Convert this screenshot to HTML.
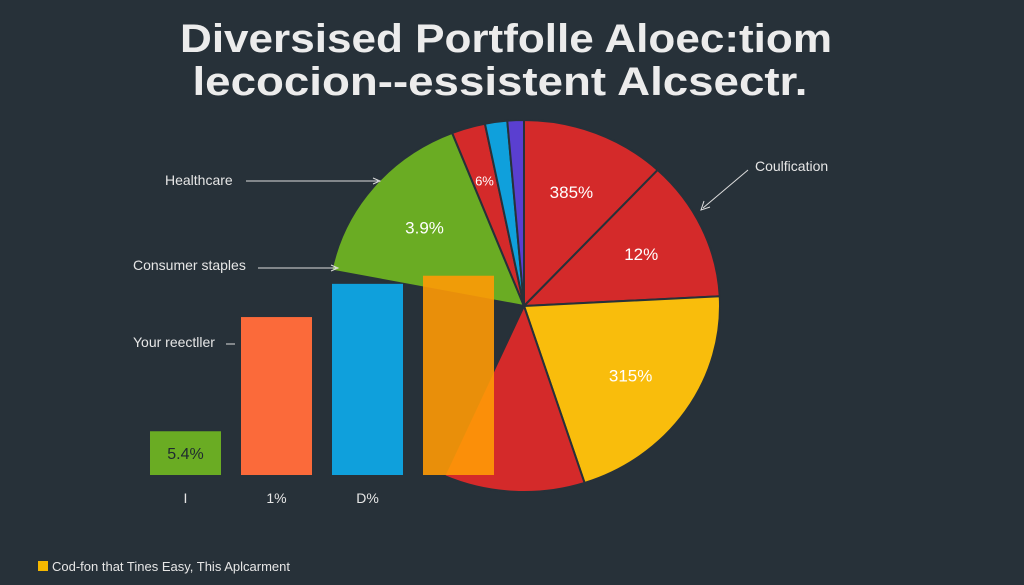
<!DOCTYPE html>
<html><head><meta charset="utf-8"><style>
html,body{margin:0;padding:0;background:#273139;}
svg{display:block;font-family:"Liberation Sans",sans-serif;}
</style></head><body>
<svg id="chart" width="1024" height="585" viewBox="0 0 1024 585">
<rect width="1024" height="585" fill="#273139"/>
<text x="506" y="52" text-anchor="middle" font-size="40" font-weight="bold" fill="#ececec" textLength="652" lengthAdjust="spacingAndGlyphs">Diversised Portfolle Aloec:tiom</text>
<text x="500" y="95" text-anchor="middle" font-size="40" font-weight="bold" fill="#ececec" textLength="615" lengthAdjust="spacingAndGlyphs">lecocion--essistent Alcsectr.</text>
<g id="pie"></g>
<g id="bars"></g>
<g fill="#e6e6e6" font-size="14" stroke-width="1">
<text x="165" y="185">Healthcare</text>
<line x1="246" y1="181" x2="378" y2="181" stroke="#ddd"/>
<path d="M373 178 L380 181 L373 184" fill="none" stroke="#ddd"/>
<text x="133" y="270">Consumer staples</text>
<line x1="258" y1="268" x2="336" y2="268" stroke="#ddd"/>
<path d="M331 265 L338 268 L331 271" fill="none" stroke="#ddd"/>
<text x="133" y="347">Your reectller</text>
<line x1="226" y1="344" x2="235" y2="344" stroke="#ddd"/>
<text x="755" y="171">Coulfication</text>
<line x1="748" y1="170" x2="703" y2="208" stroke="#ddd"/>
<path d="M704 201 L701 210 L710 207" fill="none" stroke="#ddd"/>
</g>
<rect x="38" y="561" width="10" height="10" fill="#f5b800"/>
<text x="52" y="571" font-size="13" fill="#e6e6e6">Cod-fon that Tines Easy, This Aplcarment</text>
</svg>
<script>
const sliceNames = ["385%", "12%", "315%", "bottom", "gap", "3.9%", "6%", "blue", "purple"];
const sliceValues = [43, 44, 75, 42, 77, 57.5, 10, 6.6, 4.9];
const sliceColors = ["#d42a2a", "#d42a2a", "#f9bd0c", "#d42a2a", "none", "#6aac23", "#d42a2a", "#0fa0dc", "#5a3fd0"];
const sliceLabels = ["385%", "12%", "315%", "", "", "3.9%", "6%", "", ""];
const barCategories = ["I", "1%", "D%", ""];
const barValues = [5.4, 19.5, 23.6, 24.6];
const barColors = ["#6aac23", "#fb6a3a", "#0fa0dc", "#ff9a06"];
const barTexts = ["5.4%", "", "", ""];

const NS = "http://www.w3.org/2000/svg";
const cx = 524, cy = 306, RX = 196, RY = 186;
const total = sliceValues.reduce((a, b) => a + b, 0);
function ang(v) { return v / total * Math.PI * 2; }
function pt(a, k) { return [cx + k * RX * Math.sin(a), cy - k * RY * Math.cos(a)]; }
const pie = document.getElementById("pie");
let acc = 0;
sliceValues.forEach((v, i) => {
  const a0 = ang(acc), a1 = ang(acc + v);
  acc += v;
  if (sliceColors[i] === "none") return;
  const p0 = pt(a0, 1), p1 = pt(a1, 1);
  const large = a1 - a0 > Math.PI ? 1 : 0;
  const p = document.createElementNS(NS, "path");
  p.setAttribute("d", `M${cx} ${cy} L${p0[0]} ${p0[1]} A${RX} ${RY} 0 ${large} 1 ${p1[0]} ${p1[1]} Z`);
  p.setAttribute("fill", sliceColors[i]);
  p.setAttribute("stroke", "#273139");
  p.setAttribute("stroke-width", "2");
  
  
  pie.appendChild(p);
  if (sliceLabels[i]) {
    const m = (a0 + a1) / 2;
    const rr = (a1 - a0) < 0.3 ? 0.71 : 0.66;
    const lp = pt(m, rr);
    const t = document.createElementNS(NS, "text");
    t.setAttribute("x", lp[0]); t.setAttribute("y", lp[1] + 6);
    t.setAttribute("text-anchor", "middle");
    t.setAttribute("font-size", (a1 - a0) < 0.3 ? "13" : "17");
    t.setAttribute("fill", "#fff");
    t.textContent = sliceLabels[i];
    
    
    pie.appendChild(t);
  }
});

const bars = document.getElementById("bars");
const baseY = 475, yScale = 8.1;
const barX = i => 150 + i * 91;
const barW = 71;
barValues.forEach((v, i) => {
  const h = v * yScale;
  const r = document.createElementNS(NS, "rect");
  r.setAttribute("x", barX(i)); r.setAttribute("y", baseY - h);
  r.setAttribute("width", barW); r.setAttribute("height", h);
  r.setAttribute("fill", barColors[i]);
  if (i === 3) r.setAttribute("opacity", "0.9");
  
  
  bars.appendChild(r);
  if (barTexts[i]) {
    const t = document.createElementNS(NS, "text");
    t.setAttribute("x", barX(i) + barW / 2); t.setAttribute("y", baseY - h / 2 + 6);
    t.setAttribute("text-anchor", "middle"); t.setAttribute("font-size", "16");
    t.setAttribute("fill", "#1f2a30");
    t.textContent = barTexts[i];
    
    
    bars.appendChild(t);
  }
  if (barCategories[i]) {
    const c = document.createElementNS(NS, "text");
    c.setAttribute("x", barX(i) + barW / 2); c.setAttribute("y", 503);
    c.setAttribute("text-anchor", "middle"); c.setAttribute("font-size", "14");
    c.setAttribute("fill", "#e6e6e6");
    c.textContent = barCategories[i];
    
    
    bars.appendChild(c);
  }
});
</script>
</body></html>
